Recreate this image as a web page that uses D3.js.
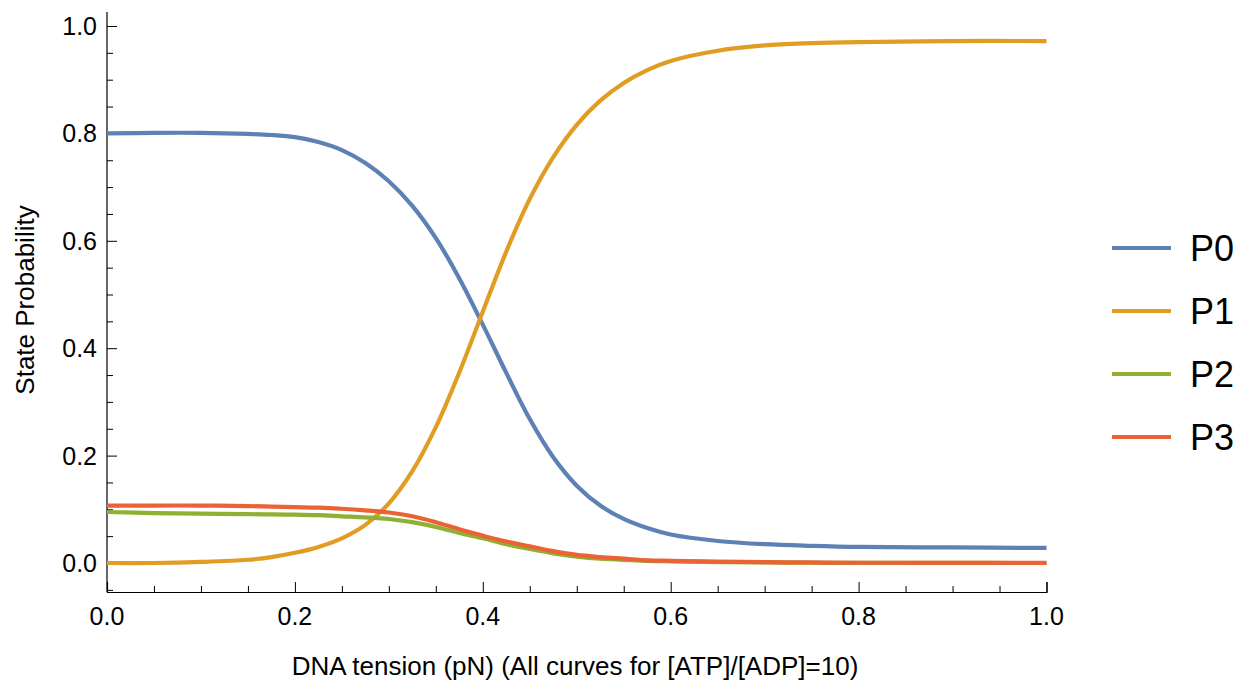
<!DOCTYPE html>
<html>
<head>
<meta charset="utf-8">
<script src="https://cdn.jsdelivr.net/npm/d3@7"></script>
<style>
  html, body { margin: 0; padding: 0; background: #fff; }
  svg { display: block; }
  text { font-family: "Liberation Sans", Arial, Helvetica, sans-serif; fill: #000; }
</style>
</head>
<body>
<svg id="chart" width="1240" height="681"></svg>
<script>
// ---- data ----
const tension = [0, 0.05, 0.1, 0.15, 0.175, 0.2, 0.225, 0.25, 0.275, 0.3, 0.325, 0.35, 0.375, 0.4, 0.425, 0.45, 0.475, 0.5, 0.525, 0.55, 0.575, 0.6, 0.65, 0.7, 0.75, 0.8, 0.9, 1.0];
const P0 = [0.800, 0.801, 0.801, 0.799, 0.797, 0.793, 0.784, 0.769, 0.745, 0.711, 0.665, 0.605, 0.530, 0.444, 0.354, 0.268, 0.197, 0.144, 0.107, 0.082, 0.065, 0.053, 0.041, 0.035, 0.032, 0.030, 0.029, 0.028];
const P1 = [0.000, 0.000, 0.002, 0.006, 0.011, 0.019, 0.030, 0.046, 0.071, 0.111, 0.171, 0.253, 0.355, 0.468, 0.580, 0.678, 0.756, 0.816, 0.861, 0.894, 0.918, 0.935, 0.954, 0.964, 0.968, 0.970, 0.972, 0.972];
const P2 = [0.095, 0.093, 0.092, 0.091, 0.0905, 0.090, 0.089, 0.087, 0.085, 0.082, 0.076, 0.067, 0.056, 0.046, 0.035, 0.026, 0.018, 0.012, 0.008, 0.006, 0.004, 0.003, 0.0015, 0.001, 0.0005, 0.0003, 0.0001, 0.0];
const P3 = [0.107, 0.107, 0.107, 0.106, 0.105, 0.104, 0.103, 0.101, 0.098, 0.094, 0.087, 0.076, 0.063, 0.051, 0.040, 0.031, 0.022, 0.015, 0.011, 0.008, 0.005, 0.004, 0.0025, 0.0015, 0.001, 0.0005, 0.0002, 0.0001];
const seriesNames = ["P0", "P1", "P2", "P3"];
const seriesColors = ["#5E81B5", "#E19C24", "#8FB032", "#EB6235"];
const xMajorTicks = [0, 0.2, 0.4, 0.6, 0.8, 1.0];
const yMajorTicks = [0, 0.2, 0.4, 0.6, 0.8, 1.0];
const xTitle = "DNA tension (pN) (All curves for [ATP]/[ADP]=10)";
const yTitle = "State Probability";

const seriesValues = [P0, P1, P2, P3];

// ---- layout ----
const svg = d3.select("#chart");
const x = d3.scaleLinear().domain([0, 1]).range([107, 1046.5]);
const y = d3.scaleLinear().domain([0, 1]).range([563, 26]);
const yAxisMin = -0.054, yAxisMax = 1.026;

const fmt = d3.format(".1f");
const xMinor = d3.range(0, 1.0001, 0.05).filter(v => !xMajorTicks.some(m => Math.abs(m - v) < 1e-6));
const yMinor = d3.range(-0.05, 1.0001, 0.05).filter(v => !yMajorTicks.some(m => Math.abs(m - v) < 1e-6));

// x axis (bottom, ticks inward)
const xAxisY = y(yAxisMin);
const gx = svg.append("g").attr("transform", `translate(0,${xAxisY})`);
gx.call(d3.axisTop(x).tickValues(xMajorTicks).tickSize(10).tickFormat(""));
gx.append("g").call(d3.axisTop(x).tickValues(xMinor).tickSize(6).tickFormat(""));
gx.selectAll("path.domain").attr("stroke", "#000").attr("stroke-width", 1.2);
gx.selectAll(".tick line").attr("stroke", "#000").attr("stroke-width", 1);
gx.selectAll("g > g > path.domain").remove();
gx.selectAll(".xlab").data(xMajorTicks).join("text")
  .attr("class", "xlab")
  .attr("x", d => x(d)).attr("y", 33)
  .attr("text-anchor", "middle")
  .attr("font-size", 25)
  .text(d => fmt(d));

// y axis (left, ticks inward)
const gy = svg.append("g").attr("transform", `translate(${x(0)},0)`);
gy.call(d3.axisRight(y).tickValues(yMajorTicks).tickSize(10).tickFormat(""));
gy.append("g").call(d3.axisRight(y).tickValues(yMinor).tickSize(6).tickFormat(""));
gy.selectAll("g > g > path.domain").remove();
gy.select("path.domain").attr("d", `M0,${y(yAxisMin)}V${y(yAxisMax)}`).attr("stroke", "#000").attr("stroke-width", 1.2);
gy.selectAll(".tick line").attr("stroke", "#000").attr("stroke-width", 1);
gy.selectAll(".ylab").data(yMajorTicks).join("text")
  .attr("class", "ylab")
  .attr("x", -10).attr("y", d => y(d))
  .attr("dy", "0.36em")
  .attr("text-anchor", "end")
  .attr("font-size", 25)
  .text(d => fmt(d));

// axis titles
svg.append("text")
  .attr("x", 575).attr("y", 675)
  .attr("text-anchor", "middle")
  .attr("font-size", 26)
  .text(xTitle);
svg.append("text")
  .attr("transform", `translate(34,300) rotate(-90)`)
  .attr("text-anchor", "middle")
  .attr("font-size", 26)
  .text(yTitle);

// curves
const line = d3.line()
  .x(d => x(d[0]))
  .y(d => y(d[1]))
  .curve(d3.curveCatmullRom.alpha(0.5));

seriesValues.forEach((vals, i) => {
  svg.append("path")
    .datum(tension.map((t, j) => [t, vals[j]]))
    .attr("fill", "none")
    .attr("stroke", seriesColors[i])
    .attr("stroke-width", 4.2)
    .attr("stroke-linejoin", "round")
    .attr("d", line);
});

// legend
const legendY = d3.scaleOrdinal().domain(seriesNames).range([248, 311, 374, 437]);
const lg = svg.append("g");
seriesNames.forEach((name, i) => {
  const ly = legendY(name);
  lg.append("line")
    .attr("x1", 1112).attr("x2", 1171)
    .attr("y1", ly).attr("y2", ly)
    .attr("stroke", seriesColors[i]).attr("stroke-width", 4);
  lg.append("text")
    .attr("x", 1190).attr("y", ly)
    .attr("dy", "0.36em")
    .attr("font-size", 36)
    .text(name);
});
</script>
</body>
</html>
